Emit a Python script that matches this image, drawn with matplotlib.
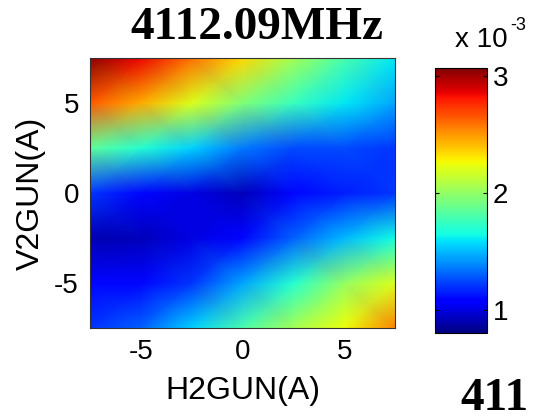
import numpy as np
import matplotlib
matplotlib.use("Agg")
import matplotlib.pyplot as plt

# corrector currents (A) and measured response (x 1e-3)
h2gun = [-7.5, -5.0, -2.5, 0.0, 2.5, 5.0, 7.5]
v2gun = [-7.5, -5.0, -2.5, 0.0, 2.5, 5.0, 7.5]
resp = [
    [1.20, 1.30, 1.55, 1.80, 2.05, 2.25, 2.55],   # V = -7.5
    [1.10, 1.10, 1.20, 1.45, 1.70, 2.00, 2.20],   # V = -5
    [0.90, 0.92, 1.00, 1.10, 1.30, 1.50, 1.65],   # V = -2.5
    [1.20, 1.10, 1.00, 0.92, 1.10, 1.15, 1.20],   # V = 0
    [1.85, 1.70, 1.55, 1.35, 1.25, 1.25, 1.20],   # V = 2.5
    [2.65, 2.45, 2.20, 1.95, 1.75, 1.60, 1.45],   # V = 5
    [3.05, 2.85, 2.60, 2.35, 2.05, 1.80, 1.60],   # V = 7.5
]
cticks = [1, 2, 3]
freq = "4112.09MHz"

sans = ["Liberation Sans", "DejaVu Sans"]
serif = ["Liberation Serif", "DejaVu Serif"]

W, H = 547, 417
fig = plt.figure(figsize=(W / 100, H / 100), dpi=100)

ax = fig.add_axes([90 / W, 1 - 328 / H, 305 / W, 270 / H])
im = ax.pcolormesh(h2gun, v2gun, np.array(resp), cmap="jet",
                   shading="gouraud", vmin=0.80, vmax=3.07)
ax.set_xlim(-7.5, 7.5)
ax.set_ylim(-7.5, 7.5)
ax.set_xticks([-5, 0, 5])
ax.set_yticks([-5, 0, 5])
ax.set_xticklabels(["-5", "0", "5"], family=sans, fontsize=20)
ax.set_yticklabels(["-5", "0", "5"], family=sans, fontsize=20)
ax.tick_params(direction="in", length=0, pad=8)
for s in ax.spines.values():
    s.set_linewidth(0.8)
    s.set_color("#333333")
ax.set_xlabel("H2GUN(A)", family=sans, fontsize=23, labelpad=8)
ax.set_ylabel("V2GUN(A)", family=sans, fontsize=23, labelpad=6)

cax = fig.add_axes([435 / W, 1 - 333 / H, 52 / W, 265 / H])
cb = fig.colorbar(im, cax=cax, ticks=cticks)
cb.ax.set_yticklabels([str(t) for t in cticks], family=sans, fontsize=20)
cb.ax.tick_params(direction="in", length=3, width=0.8, left=True, right=True, pad=4)
cb.outline.set_linewidth(0.8)

fig.text(455 / W, 1 - 47 / H, "x 10", family=sans, fontsize=20, va="baseline")
fig.text(510 / W, 1 - 30 / H, "-3", family=sans, fontsize=13, va="baseline")

fig.text(257 / W, 1 - 28 / H, freq, family=serif, fontsize=34,
         fontweight="bold", ha="center", va="center")
fig.text(460 / W, 1 - 410 / H, freq[:3], family=serif, fontsize=34,
         fontweight="bold", va="baseline")

fig.savefig("out.png", dpi=100)
